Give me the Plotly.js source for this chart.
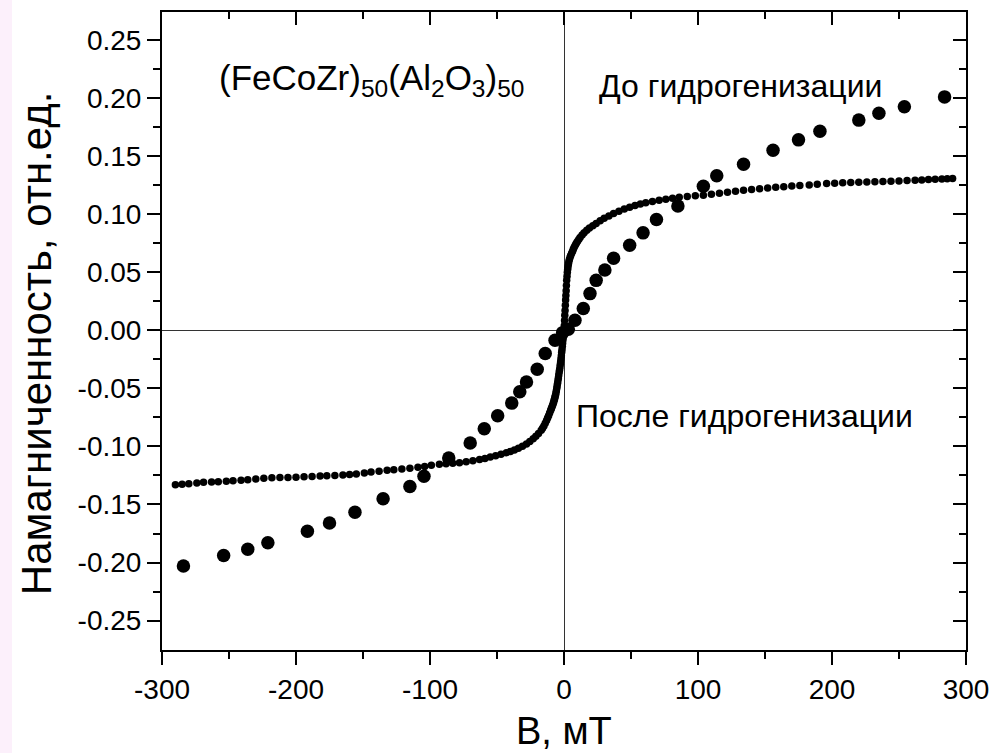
<!DOCTYPE html>
<html>
<head>
<meta charset="utf-8">
<script src="https://cdn.plot.ly/plotly-3.0.1.min.js"></script>
<style>
  html, body { margin: 0; padding: 0; }
  body { background: linear-gradient(to right, #fcf0fb 0px, #fcf0fb 12px, #ffffff 12px); }
  #chart { width: 996px; height: 753px; }
</style>
</head>
<body>
<div id="chart"></div>
<script>
// ---- Data ----
// До гидрогенизации (large dots)
const beforeB = [-284, -254, -236, -221, -191.5, -175, -156, -135, -115, -104.5, -86, -70, -59.5, -49.5, -39, -33, -28, -20, -14, -6.7, -1, 3.2, 8.2, 14.4, 19.4, 24, 30.5, 37, 49, 59, 69, 85, 104, 114, 134, 156, 175, 191, 220, 235, 254, 284];
const beforeM = [-0.203, -0.194, -0.1885, -0.183, -0.173, -0.166, -0.1566, -0.145, -0.1345, -0.1256, -0.110, -0.097, -0.0847, -0.0735, -0.0627, -0.053, -0.0445, -0.0336, -0.020, -0.0086, -0.002, 0.001, 0.0086, 0.0187, 0.0316, 0.043, 0.052, 0.062, 0.0733, 0.0839, 0.0954, 0.107, 0.124, 0.133, 0.143, 0.155, 0.164, 0.1715, 0.181, 0.187, 0.1925, 0.201];

// После гидрогенизации (small dots)
const afterB = [-290, -285, -280, -274, -269, -263, -258, -252, -247, -241, -236, -230, -224, -218, -212, -206, -200, -194, -188, -182, -177, -171, -165, -160, -155, -149, -144, -138, -132, -127, -121, -115, -109, -104, -99, -93, -88, -83, -78, -73, -68, -63, -59, -55, -51, -47, -43, -40, -37, -34, -31, -28, -25.5, -23, -21, -19, -17, -16, -15, -14, -13, -12.25, -11.5, -10.75, -10, -9.5, -9, -8.5, -8, -7.65, -7.3, -7, -6.7, -6.35, -6, -5.7, -5.4, -5.1, -4.8, -4.5, -4.2, -3.9, -3.6, -3.3, -3, -2.75, -2.5, -2.25, -2, -1.75, -1.5, -1.25, -1, -0.75, -0.5, -0.25, 0,
  0.2, 0.4, 0.6, 0.8, 1.0, 1.2, 1.4, 1.6, 1.8, 2.0, 2.25, 2.5, 2.75, 3.0, 3.3, 3.6, 4.0, 4.5, 5.0, 5.7, 6.4, 7, 7.7, 8.5, 9.2, 10, 11, 12, 13.5, 15, 17, 19, 21.5, 24, 27, 30, 33.5, 37, 41, 45, 49, 53, 57, 61, 66, 71, 76, 81, 86, 92, 98, 104, 110, 116, 122, 128, 134, 140, 146, 152, 158, 164, 170, 176, 183, 189, 196, 202, 208, 214, 220, 226, 232, 238, 244, 250, 256, 262, 267, 272, 277, 282, 286, 290];
const afterM = [-0.1330, -0.1326, -0.1321, -0.1314, -0.1308, -0.1307, -0.1305, -0.1300, -0.1295, -0.1291, -0.1287, -0.1280, -0.1273, -0.1270, -0.1268, -0.1267, -0.1265, -0.1262, -0.1258, -0.1255, -0.1252, -0.1250, -0.1246, -0.1242, -0.1237, -0.1228, -0.1220, -0.1213, -0.1206, -0.1201, -0.1195, -0.1188, -0.1180, -0.1172, -0.1163, -0.1154, -0.1150, -0.1145, -0.1140, -0.1133, -0.1124, -0.1113, -0.1103, -0.1090, -0.1080, -0.1068, -0.1054, -0.1043, -0.1030, -0.1015, -0.0998, -0.0978, -0.0958, -0.0934, -0.0912, -0.0888, -0.0860, -0.0843, -0.0825, -0.0800, -0.0776, -0.0756, -0.0735, -0.0712, -0.0690, -0.0675, -0.0660, -0.0645, -0.0628, -0.0615, -0.0600, -0.0590, -0.0575, -0.0560, -0.0540, -0.0520, -0.0500, -0.0478, -0.0455, -0.0433, -0.0410, -0.0385, -0.0360, -0.0340, -0.0316, -0.0293, -0.0270, -0.0245, -0.0220, -0.0190, -0.0165, -0.0138, -0.0110, -0.0080, -0.0055, -0.0030, 0.0000,
  0.0040, 0.0085, 0.0130, 0.0170, 0.0215, 0.0260, 0.0300, 0.0340, 0.0385, 0.0430, 0.0465, 0.0500, 0.0525, 0.0550, 0.0570, 0.0590, 0.0610, 0.0630, 0.0645, 0.0663, 0.0680, 0.0700, 0.0718, 0.0735, 0.0750, 0.0765, 0.0782, 0.0800, 0.0820, 0.0840, 0.0862, 0.0880, 0.0900, 0.0920, 0.0943, 0.0965, 0.0985, 0.1005, 0.1025, 0.1045, 0.1060, 0.1075, 0.1087, 0.1098, 0.1110, 0.1120, 0.1129, 0.1138, 0.1145, 0.1152, 0.1158, 0.1164, 0.1172, 0.1180, 0.1189, 0.1198, 0.1206, 0.1213, 0.1220, 0.1226, 0.1231, 0.1237, 0.1242, 0.1247, 0.1252, 0.1258, 0.1264, 0.1267, 0.1270, 0.1273, 0.1276, 0.1278, 0.1280, 0.1282, 0.1284, 0.1286, 0.1289, 0.1292, 0.1295, 0.1298, 0.1301, 0.1303, 0.1305, 0.1307];

// Tick values and labels
const xTickVals = [-300, -200, -100, 0, 100, 200, 300];
const xTickText = ['-300', '-200', '-100', '0', '100', '200', '300'];
const xMinorVals = [-250, -150, -50, 50, 150, 250];
const yTickVals = [-0.25, -0.20, -0.15, -0.10, -0.05, 0, 0.05, 0.10, 0.15, 0.20, 0.25];
const yTickText = ['-0.25', '-0.20', '-0.15', '-0.10', '-0.05', '0.00', '0.05', '0.10', '0.15', '0.20', '0.25'];
const yMinorVals = [-0.225, -0.175, -0.125, -0.075, -0.025, 0.025, 0.075, 0.125, 0.175, 0.225];

// Text
const xTitle = 'B, мТ';
const yTitle = 'Намагниченность, отн.ед.';
const sampleLabel = '(FeCoZr)<sub>50</sub>(Al<sub>2</sub>O<sub>3</sub>)<sub>50</sub>';
const beforeLabel = 'До гидрогенизации';
const afterLabel = 'После гидрогенизации';

// ---- Chart ----
const FONT = 'Liberation Sans, Arial, Helvetica, sans-serif';
const xRange = [-300, 300];
const yRange = [-0.2753, 0.2741];

const traces = [
  { x: afterB, y: afterM, mode: 'markers', type: 'scatter', name: afterLabel,
    marker: { color: '#000000', size: 7.5 }, showlegend: false, hoverinfo: 'x+y' },
  { x: beforeB, y: beforeM, mode: 'markers', type: 'scatter', name: beforeLabel,
    marker: { color: '#000000', size: 13.5 }, showlegend: false, hoverinfo: 'x+y' },
  { x: [], y: [], xaxis: 'x2', yaxis: 'y2', type: 'scatter', mode: 'markers', showlegend: false, hoverinfo: 'skip' }
];

const commonAxis = {
  showgrid: false, showline: true, linewidth: 2, linecolor: '#000000',
  tickwidth: 2, tickcolor: '#000000', ticklen: 13,
  tickfont: { family: FONT, size: 28, color: '#000000' }
};

const layout = {
  width: 996, height: 753,
  margin: { l: 162, r: 30, t: 12, b: 103, pad: 0 },
  paper_bgcolor: 'rgba(0,0,0,0)',
  plot_bgcolor: '#ffffff',
  showlegend: false,
  font: { family: FONT, color: '#000000' },
  xaxis: Object.assign({}, commonAxis, {
    range: xRange, tickmode: 'array', tickvals: xTickVals, ticktext: xTickText,
    ticks: 'outside', zeroline: true, zerolinecolor: '#333333', zerolinewidth: 1,
    minor: { tickmode: 'array', tickvals: xMinorVals, ticks: 'outside', ticklen: 7, tickwidth: 2, tickcolor: '#000000', showgrid: false }
  }),
  yaxis: Object.assign({}, commonAxis, {
    range: yRange, tickmode: 'array', tickvals: yTickVals, ticktext: yTickText,
    ticks: 'outside', zeroline: true, zerolinecolor: '#333333', zerolinewidth: 1,
    minor: { tickmode: 'array', tickvals: yMinorVals, ticks: 'outside', ticklen: 7, tickwidth: 2, tickcolor: '#000000', showgrid: false }
  }),
  xaxis2: Object.assign({}, commonAxis, {
    overlaying: 'x', side: 'top', anchor: 'y2', range: xRange,
    tickmode: 'array', tickvals: xTickVals, ticks: 'inside', showticklabels: false, zeroline: false,
    minor: { tickmode: 'array', tickvals: xMinorVals, ticks: 'inside', ticklen: 7, tickwidth: 2, tickcolor: '#000000', showgrid: false }
  }),
  yaxis2: Object.assign({}, commonAxis, {
    overlaying: 'y', side: 'right', anchor: 'x2', range: yRange,
    tickmode: 'array', tickvals: yTickVals, ticks: 'inside', showticklabels: false, zeroline: false,
    minor: { tickmode: 'array', tickvals: yMinorVals, ticks: 'inside', ticklen: 7, tickwidth: 2, tickcolor: '#000000', showgrid: false }
  }),
  annotations: [
    { text: yTitle, xref: 'paper', yref: 'paper', x: -0.1567, y: 0.481, textangle: -90,
      xanchor: 'center', yanchor: 'middle', showarrow: false, font: { family: FONT, size: 42, color: '#000000' } },
    { text: xTitle, xref: 'paper', yref: 'paper', x: 0.5, y: -0.127,
      xanchor: 'center', yanchor: 'middle', showarrow: false, font: { family: FONT, size: 38, color: '#000000' } },
    { text: sampleLabel, xref: 'paper', yref: 'paper', x: 0.261, y: 0.893,
      xanchor: 'center', yanchor: 'middle', showarrow: false, font: { family: FONT, size: 35, color: '#000000' } },
    { text: beforeLabel, xref: 'paper', yref: 'paper', x: 0.719, y: 0.884,
      xanchor: 'center', yanchor: 'middle', showarrow: false, font: { family: FONT, size: 32, color: '#000000' } },
    { text: afterLabel, xref: 'paper', yref: 'paper', x: 0.725, y: 0.366,
      xanchor: 'center', yanchor: 'middle', showarrow: false, font: { family: FONT, size: 32, color: '#000000' } }
  ]
};

Plotly.newPlot('chart', traces, layout, { staticPlot: true, displayModeBar: false });
</script>
</body>
</html>
